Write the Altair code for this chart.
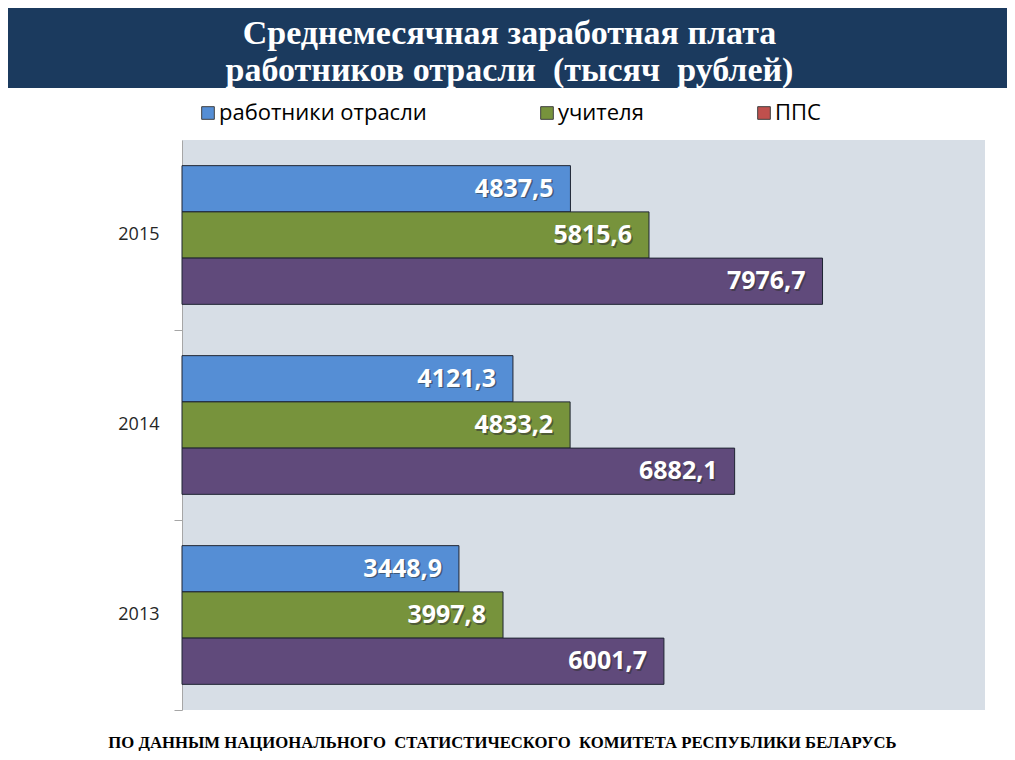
import altair as alt
import pandas as pd

# ---- data ----
years = ["2015", "2014", "2013"]
series = ["работники отрасли", "учителя", "ППС"]
workers = [4837.5, 4121.3, 3448.9]
teachers = [5815.6, 4833.2, 3997.8]
pps = [7976.7, 6882.1, 6001.7]

NB = "\u00a0"
title_lines = [
    "Среднемесячная заработная плата",
    "работников отрасли " + NB + "(тысяч " + NB + "рублей)",
]
footer = ("ПО ДАННЫМ НАЦИОНАЛЬНОГО " + NB + "СТАТИСТИЧЕСКОГО " + NB
          + "КОМИТЕТА РЕСПУБЛИКИ БЕЛАРУСЬ")

rows = []
for s, vals in zip(series, [workers, teachers, pps]):
    for y, v in zip(years, vals):
        rows.append({"year": y, "series": s, "value": v})
df = pd.DataFrame(rows)

# ---- styles ----
NAVY = "#1b3a5e"
BLUE = "#558ed5"
GREEN = "#77933c"
PURPLE = "#604a7b"
RED = "#c0504d"

W, H = 803, 570

base = alt.Chart(df).transform_calculate(
    label="replace(format(datum.value, '.1f'), '.', ',')"
)

x_enc = alt.X(
    "value:Q",
    scale=alt.Scale(domain=[0, 10000], nice=False),
    axis=alt.Axis(
        labels=False, ticks=False, domain=False, grid=False,
        title=footer, titleFont="Liberation Serif", titleFontSize=16.7,
        titleFontWeight="bold", titleColor="#000000",
        titleX=320, titleY=32, titleAlign="center", titleBaseline="middle",
    ),
)
y_enc = alt.Y(
    "year:N",
    sort=years,
    scale=alt.Scale(paddingInner=0.27, paddingOuter=0.135),
    axis=alt.Axis(
        title=None, bandPosition=1.185, tickSize=8, tickColor="#a6a6a6",
        domainColor="#a6a6a6", labelFont="Open Sans", labelFontSize=18,
        labelColor="#262626", labelPadding=15, grid=False,
    ),
)
yoff = alt.YOffset("series:N", sort=series, scale=alt.Scale(paddingInner=0, paddingOuter=0))

banner = alt.Chart(pd.DataFrame({"a": [0]})).mark_rect(color=NAVY).encode(
    x=alt.value(-174), x2=alt.value(825), y=alt.value(-132), y2=alt.value(-52)
)

bars = base.mark_bar(stroke="#1f2533", strokeWidth=1).encode(
    x=x_enc,
    y=y_enc,
    yOffset=yoff,
    color=alt.condition(
        "datum.series === 'ППС'",
        alt.value(PURPLE),
        alt.Color(
            "series:N",
            sort=series,
            scale=alt.Scale(domain=series, range=[BLUE, GREEN, RED]),
            legend=alt.Legend(
                title=None, orient="none", legendX=15, legendY=-38,
                direction="horizontal", columns=3, symbolType="square",
                symbolSize=160, symbolStrokeColor="#404040", symbolStrokeWidth=1,
                labelFont="Open Sans", labelFontSize=22, labelColor="#000000",
                labelOffset=0, columnPadding=109, padding=0, labelLimit=400,
            ),
        ),
    ),
)

shadow = base.mark_text(
    align="right", baseline="middle", dx=-15.5, dy=1.5, font="Open Sans",
    fontSize=25, fontWeight="bold", color="#303030", opacity=0.55,
).encode(x="value:Q", y=alt.Y("year:N", sort=years), yOffset=yoff, text="label:N")

labels = base.mark_text(
    align="right", baseline="middle", dx=-17, font="Open Sans",
    fontSize=25, fontWeight="bold", color="white",
).encode(x="value:Q", y=alt.Y("year:N", sort=years), yOffset=yoff, text="label:N")

chart = alt.layer(banner, bars, shadow, labels).properties(
    width=W,
    height=H,
    padding=0,
    background="white",
    title=alt.TitleParams(
        text=title_lines, font="Liberation Serif", fontSize=34, fontWeight="bold",
        color="white", anchor="middle", frame="group", dx=-74, offset=55,
        dy=135, lineHeight=37,
    ),
).configure_view(fill="#d7dee6", strokeWidth=0)

chart.save("out.html", embed_options={"renderer": "svg", "actions": False})
